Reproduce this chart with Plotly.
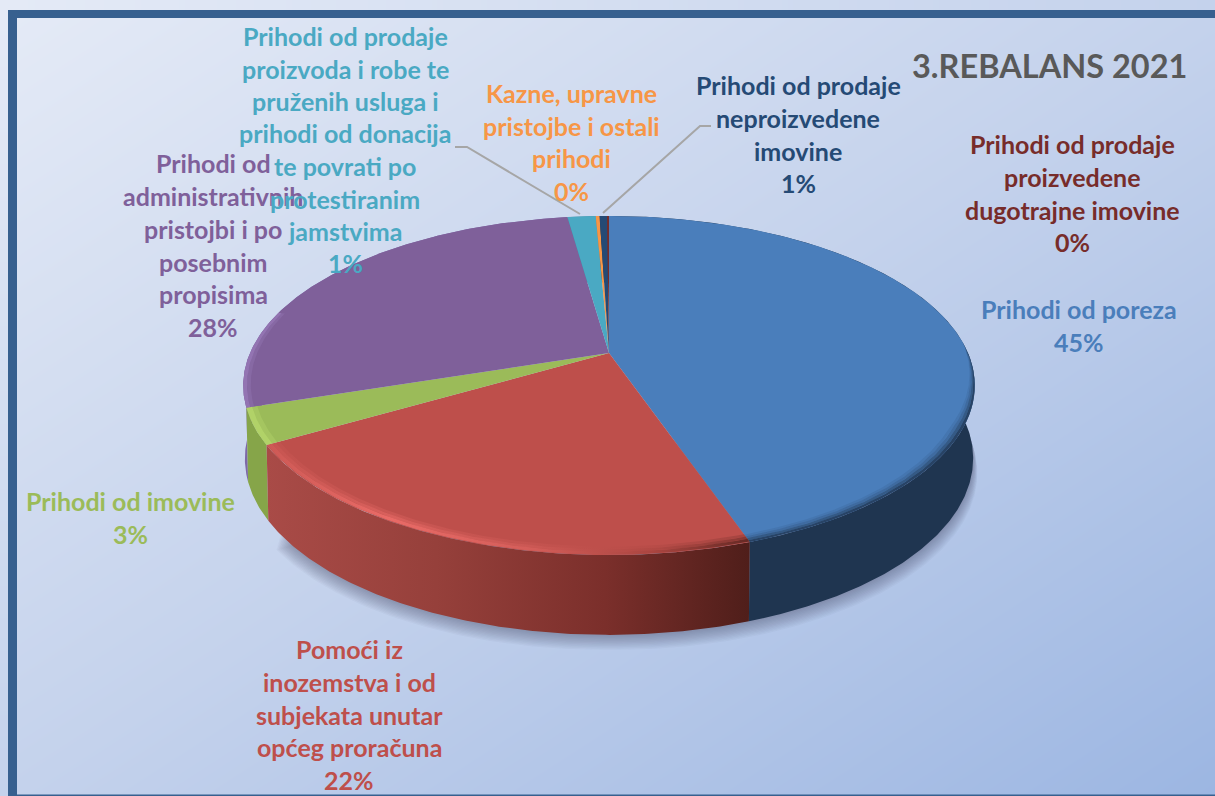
import numpy as np
import plotly.graph_objects as go

# ---- data -------------------------------------------------------------
categories = ["Prihodi od poreza", "Pomoći", "Prihodi od imovine", "Administrativne",
              "Prodaja i donacije", "Kazne", "Neproizvedena imovina", "Proizvedena imovina"]
values = [44.8, 21.7, 3.4, 27.9, 1.5, 0.2, 0.4, 0.1]
top_colors = ["#4A7EBB", "#BE4F4B", "#9BBB59", "#7F609A", "#4AA9C3", "#F79646", "#254A75", "#772C2A"]
side_colors = ["#1F3550", "#8F3632", "#86A549", "#7D68A8", "#3A8AA0", "#C97733", "#1A3352", "#5A2020"]
label_lines = [
    ["Prihodi od poreza", "45%"],
    ["Pomoći iz", "inozemstva i od", "subjekata unutar", "općeg proračuna", "22%"],
    ["Prihodi od imovine", "3%"],
    ["Prihodi od", "administrativnih", "pristojbi i po", "posebnim", "propisima", "28%"],
    ["Prihodi od prodaje", "proizvoda i robe te", "pruženih usluga i", "prihodi od donacija",
     "te povrati po", "protestiranim", "jamstvima", "1%"],
    ["Kazne, upravne", "pristojbe i ostali", "prihodi", "0%"],
    ["Prihodi od prodaje", "neproizvedene", "imovine", "1%"],
    ["Prihodi od prodaje", "proizvedene", "dugotrajne imovine", "0%"],
]
label_colors = ["#4A7EBB", "#BE4F4B", "#9BBB59", "#7F609A", "#4AA9C3", "#F79646", "#254A75", "#772C2A"]
label_x = [1079, 349, 130, 213, 345, 571, 798, 1072]
label_y = [
    [309, 342],
    [649, 682, 715, 747, 780],
    [501, 534],
    [163, 196, 229, 262, 294, 327],
    [36, 69, 101, 133, 166, 199, 231, 263],
    [93, 126, 158, 191],
    [85, 118, 151, 183],
    [144, 177, 210, 242],
]
title_text = "3.REBALANS 2021"
FONT = "Lato"

# ---- perspective disc projection ----------------------------------------
CX = 609.0
TOP = dict(R=359.0, y0=353.0, A=163.3, k=0.1917)
BOT = dict(R=357.5, y0=425.0, A=170.0, k=0.19)


def project(deg, disc, scale=1.0):
    t = np.radians(np.asarray(deg, dtype=float))
    u, v = np.sin(t) * scale, -np.cos(t) * scale
    d = 1 - disc["k"] * v
    return CX + disc["R"] * u / d, disc["y0"] + disc["A"] * v / d


fractions = np.cumsum([0] + values) / sum(values) * 360.0
arcs = [np.linspace(a, b, max(int(b - a) * 2, 3)) for a, b in zip(fractions[:-1], fractions[1:])]

fig = go.Figure()

# background
fig.add_trace(go.Heatmap(
    x=[9, 1215], y=[18, 796], z=[[0, 0.5], [0.5, 1]], zsmooth="best", showscale=False,
    colorscale=[[0, "#E4EAF6"], [0.5, "#C4D2EC"], [1, "#9CB6E2"]], zmin=0, zmax=1, hoverinfo="skip"))


def poly(x, y, **kw):
    fig.add_trace(go.Scatter(x=x, y=y, mode="lines", fill="toself", line=dict(width=0),
                             hoverinfo="skip", showlegend=False, **kw))


# soft shadow under the disc (front only)
front = np.linspace(70, 235, 200)
for g in range(1, 13):
    sx, sy = project(front, BOT, 1.0)
    poly(sx + np.sign(sx - CX) * g * 0.35, sy + g * 1.25, fillcolor="rgba(50,60,90,0.035)")

# side walls
for i in [3, 2, 4, 5, 6, 7, 0, 1]:
    a = arcs[i]
    tx, ty = project(a, TOP)
    bx, by = project(a, BOT)
    px = np.concatenate([tx, bx[::-1]])
    py = np.concatenate([ty, by[::-1]])
    if i == 1:
        poly(px, py, fillcolor=side_colors[i], fillgradient=dict(
            type="horizontal",
            colorscale=[[0, "#A94B47"], [0.35, "#96403B"], [0.7, "#7B2F2B"], [1, "#4F1E1A"]]))
    else:
        poly(px, py, fillcolor=side_colors[i])

# top surface
for i, a in enumerate(arcs):
    x, y = project(a, TOP)
    poly(np.concatenate([[CX], x, [CX]]), np.concatenate([[TOP["y0"]], y, [TOP["y0"]]]),
         fillcolor=top_colors[i])


def ribbon(a, s0, s1, **kw):
    x0, y0 = project(a, TOP, s0)
    x1, y1 = project(a, TOP, s1)
    poly(np.concatenate([x0, x1[::-1]]), np.concatenate([y0, y1[::-1]]), **kw)


# bevel along the rim; the dark edge of the blue slice fades in towards the front
blue_front = arcs[0][arcs[0] > 86]
ramp = np.clip((blue_front - 86) / 30, 0, 1)
for s0, s1, alpha in [(1.0, 0.992, 0.8), (0.992, 0.984, 0.5), (0.984, 0.976, 0.25), (0.976, 0.968, 0.1)]:
    ribbon(blue_front, 1 - (1 - s0) * ramp, 1 - (1 - s1) * ramp, fillcolor=f"rgba(31,53,80,{alpha})")

red_scale = [[0, "#CF5A56"], [0.25, "#EE6E6A"], [0.55, "#D65F5B"], [0.8, "#A8443F"], [1, "#5C2520"]]
for s0, s1, op in [(0.998, 0.986, 0.9), (0.986, 0.976, 0.55), (0.976, 0.966, 0.25)]:
    ribbon(arcs[1], s0, s1, fillcolor="#E0625E", opacity=op,
           fillgradient=dict(type="horizontal", colorscale=red_scale))
for s0, s1, alpha in [(1.0, 0.985, 0.75), (0.985, 0.972, 0.35)]:
    ribbon(arcs[2], s0, s1, fillcolor=f"rgba(184,218,110,{alpha})")
for s0, s1, alpha in [(1.0, 0.99, 0.6), (0.99, 0.98, 0.25)]:
    ribbon(arcs[3][arcs[3] < 285], s0, s1, fillcolor=f"rgba(160,130,195,{alpha})")

# leader lines
fig.add_trace(go.Scatter(x=[455, 467, 580], y=[147, 147, 214], mode="lines",
                         line=dict(color="#A6A6A6", width=2), hoverinfo="skip", showlegend=False))
fig.add_trace(go.Scatter(x=[711, 700, 603], y=[126, 126, 213], mode="lines",
                         line=dict(color="#A6A6A6", width=2), hoverinfo="skip", showlegend=False))

# labels
annotations = []
for lines, col, xc, ys in zip(label_lines, label_colors, label_x, label_y):
    for line, yc in zip(lines, ys):
        annotations.append(dict(x=xc, y=yc, xref="x", yref="y", text=line, showarrow=False,
                                xanchor="center", yanchor="middle",
                                font=dict(family=FONT, size=25, color=col, weight=700)))
annotations.append(dict(x=1049, y=65, xref="x", yref="y", text=title_text, showarrow=False,
                        xanchor="center", yanchor="middle",
                        font=dict(family=FONT, size=32.5, color="#595959", weight=700)))

# frame
BORDER = "#37608F"
shapes = [
    dict(type="rect", xref="x", yref="y", x0=8, x1=1216, y0=10, y1=18, fillcolor=BORDER, line_width=0),
    dict(type="rect", xref="x", yref="y", x0=8, x1=17, y0=10, y1=796, fillcolor=BORDER, line_width=0),
    dict(type="rect", xref="x", yref="y", x0=8, x1=1216, y0=794.5, y1=796, fillcolor=BORDER, line_width=0),
]

fig.update_layout(
    width=1215, height=796, margin=dict(l=0, r=0, t=0, b=0),
    paper_bgcolor="white", plot_bgcolor="white", showlegend=False,
    xaxis=dict(range=[0, 1215], visible=False, fixedrange=True),
    yaxis=dict(range=[796, 0], visible=False, fixedrange=True),
    annotations=annotations, shapes=shapes)

fig.write_html("out.html", config=dict(displayModeBar=False),
               post_script="document.body.style.margin='0';document.body.style.overflow='hidden';")
